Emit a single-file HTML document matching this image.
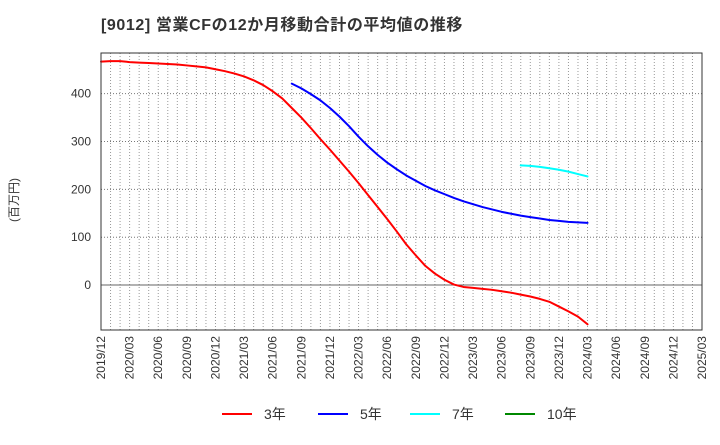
<!DOCTYPE html>
<html><head><meta charset="utf-8"><style>
body{margin:0;background:#fff;font-family:"Liberation Sans","Noto Sans CJK JP",sans-serif;}
</style></head><body>
<svg width="720" height="440" viewBox="0 0 720 440" id="chart" font-family="Liberation Sans, Noto Sans CJK JP, sans-serif">
<text x="101" y="30" font-size="16" font-weight="bold" fill="#333" letter-spacing="0.6">[9012]  営業CFの12か月移動合計の平均値の推移</text>
<text transform="translate(18,200) rotate(-90)" font-size="12" fill="#333" text-anchor="middle">(百万円)</text>
<g id="grid"></g><g id="series"></g><g id="axes"></g>
<g font-size="14" fill="#333">
<line x1="222" y1="414" x2="252" y2="414" stroke="#f00" stroke-width="2"/><text x="264" y="419">3年</text>
<line x1="318" y1="414" x2="348" y2="414" stroke="#00f" stroke-width="2"/><text x="360" y="419">5年</text>
<line x1="410" y1="414" x2="440" y2="414" stroke="#0ff" stroke-width="2"/><text x="452" y="419">7年</text>
<line x1="505" y1="414" x2="535" y2="414" stroke="#080" stroke-width="2"/><text x="547" y="419">10年</text>
</g>
</svg>
<script>
const yTicks=[0,100,200,300,400];
const xTickLabels=["2019/12","2020/03","2020/06","2020/09","2020/12","2021/03","2021/06","2021/09","2021/12","2022/03","2022/06","2022/09","2022/12","2023/03","2023/06","2023/09","2023/12","2024/03","2024/06","2024/09","2024/12","2025/03"];
const s3=[467,468,468,466,465,464,463,462,461,459,457,455,451,447,442,436,428,418,405,390,370,350,328,305,283,260,237,213,188,163,138,112,85,62,40,24,11,1,-4,-6,-8,-10,-13,-16,-20,-24,-29,-35,-45,-55,-66,-82];
const s5Start=20;
const s5=[421,411,399,386,370,352,332,310,290,272,256,242,229,218,207,198,190,182,175,169,163,158,153,149,145,142,139,136,134,132,131,130];
const s7Start=44;
const s7=[250,249,247,244,241,237,232,227];
const L=101,R=702,T=53,B=330,ymin=-94,ymax=485,nMonths=63;
const X=i=>L+(R-L)*i/nMonths;
const Y=v=>B-(B-T)*(v-ymin)/(ymax-ymin);
const NS="http://www.w3.org/2000/svg";
function mk(tag,attrs,parent){const e=document.createElementNS(NS,tag);for(const k in attrs)e.setAttribute(k,attrs[k]);parent.appendChild(e);return e;}
const grid=document.getElementById('grid'),axes=document.getElementById('axes'),series=document.getElementById('series');
for(let m=1;m<nMonths;m++){const l=mk('line',{x1:X(m),x2:X(m),y1:T,y2:B,stroke:'#999','stroke-dasharray':'1,2','stroke-width':1},grid);

}
yTicks.forEach(v=>{const l=mk('line',{x1:L,x2:R,y1:Y(v),y2:Y(v),stroke:v===0?'#666':'#777','stroke-dasharray':v===0?'':'1,2','stroke-width':1},grid);


const t=mk('text',{x:L-10,y:Y(v)+4,'text-anchor':'end','font-size':12,fill:'#333'},axes);t.textContent=v;

});
xTickLabels.forEach((s,i)=>{const x=X(i*3);const t=mk('text',{transform:`translate(${x+4},${B+6}) rotate(-90)`,'text-anchor':'end','font-size':12,fill:'#333'},axes);t.textContent=s;

});
const fr=mk('rect',{x:L,y:T,width:R-L,height:B-T,fill:'none',stroke:'#333','stroke-width':1},axes);


function line(arr,start,color,name){const p=mk('polyline',{points:arr.map((v,i)=>X(start+i)+','+Y(v)).join(' '),fill:'none',stroke:color,'stroke-width':2,'stroke-linejoin':'round','stroke-linecap':'round'},series);

}
line(s3,0,'#f00','series-3yr');
line(s5,s5Start,'#00f','series-5yr');
line(s7,s7Start,'#0ff','series-7yr');
</script>
</body></html>
